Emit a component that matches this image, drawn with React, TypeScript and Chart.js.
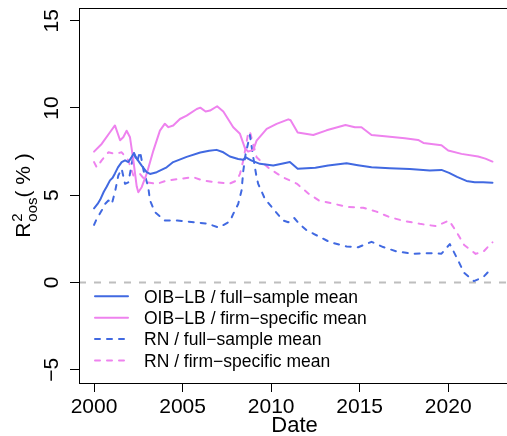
import React, { useEffect, useRef } from 'react';
import { Chart, registerables } from 'chart.js';

Chart.register(...registerables);

// ---- tick values ----
const xTickValues = [2000, 2005, 2010, 2015, 2020];
const yTickValues = [-5, 0, 5, 10, 15];

// ---- series labels ----
const seriesLabels = [
  'OIB\u2212LB / full\u2212sample mean',
  'OIB\u2212LB / firm\u2212specific mean',
  'RN / full\u2212sample mean',
  'RN / firm\u2212specific mean',
];

// ---- OIB-LB / full-sample mean ----
const oibFullDates = [2000.0, 2000.2, 2000.35, 2000.55, 2000.72, 2000.9, 2001.05, 2001.18, 2001.35, 2001.56, 2001.75, 2001.94, 2002.13, 2002.25, 2002.41, 2002.69, 2002.97, 2003.16, 2003.54, 2004.1, 2004.47, 2005.23, 2006.0, 2006.5, 2006.92, 2007.3, 2007.67, 2008.14, 2008.43, 2008.55, 2008.72, 2008.9, 2009.37, 2010.12, 2010.6, 2011.06, 2011.5, 2012.5, 2013.22, 2014.26, 2014.9, 2015.67, 2016.7, 2017.83, 2018.96, 2019.62, 2020.05, 2020.5, 2021.03, 2021.5, 2021.97, 2022.5];
const oibFullValues = [4.25, 4.5, 4.75, 5.2, 5.5, 5.85, 6.0, 6.25, 6.6, 6.9, 7.0, 6.9, 7.2, 7.4, 7.1, 6.7, 6.32, 6.22, 6.32, 6.6, 6.9, 7.2, 7.45, 7.55, 7.6, 7.46, 7.22, 7.08, 7.03, 7.18, 7.08, 6.98, 6.8, 6.7, 6.8, 6.9, 6.52, 6.57, 6.7, 6.83, 6.72, 6.6, 6.55, 6.5, 6.42, 6.45, 6.28, 6.05, 5.82, 5.75, 5.74, 5.72];

// ---- OIB-LB / firm-specific mean ----
const oibFirmDates = [2000.0, 2000.43, 2000.9, 2001.18, 2001.47, 2001.65, 2001.84, 2002.03, 2002.22, 2002.41, 2002.5, 2002.69, 2002.97, 2003.35, 2003.72, 2004.0, 2004.2, 2004.47, 2004.85, 2005.23, 2005.8, 2006.0, 2006.3, 2006.55, 2006.95, 2007.3, 2007.86, 2008.24, 2008.52, 2008.7, 2008.99, 2009.18, 2009.75, 2010.31, 2010.97, 2011.1, 2011.5, 2012.38, 2013.13, 2014.2, 2014.73, 2015.1, 2015.67, 2016.42, 2017.55, 2018.3, 2018.6, 2019.62, 2020.0, 2020.75, 2021.69, 2022.1, 2022.5];
const oibFirmValues = [7.5, 7.94, 8.61, 9.0, 8.15, 8.32, 8.7, 8.32, 7.0, 5.5, 5.17, 5.46, 6.22, 7.56, 8.7, 9.1, 8.9, 9.0, 9.37, 9.56, 9.94, 10.02, 9.8, 9.85, 10.1, 9.8, 8.9, 8.52, 7.7, 7.5, 7.6, 8.13, 8.8, 9.09, 9.35, 9.3, 8.6, 8.45, 8.72, 9.03, 8.9, 8.9, 8.45, 8.38, 8.27, 8.17, 8.0, 7.87, 7.56, 7.37, 7.22, 7.1, 6.93];

// ---- RN / full-sample mean ----
const rnFullDates = [2000.0, 2000.15, 2000.43, 2000.62, 2000.81, 2001.0, 2001.18, 2001.37, 2001.56, 2001.75, 2001.94, 2002.13, 2002.25, 2002.42, 2002.6, 2002.8, 2003.06, 2003.16, 2003.44, 2004.0, 2004.7, 2005.5, 2006.36, 2007.05, 2007.67, 2007.86, 2008.14, 2008.33, 2008.43, 2008.55, 2008.8, 2008.99, 2009.18, 2009.27, 2009.65, 2010.12, 2010.68, 2010.97, 2011.3, 2011.6, 2012.0, 2012.4, 2013.32, 2014.26, 2014.92, 2015.67, 2016.33, 2017.05, 2018.0, 2018.96, 2019.62, 2020.09, 2020.47, 2020.9, 2021.45, 2021.97, 2022.25, 2022.5];
const rnFullValues = [3.3, 3.65, 4.12, 4.5, 4.7, 4.5, 5.17, 6.13, 6.51, 5.65, 5.74, 6.8, 7.45, 6.9, 7.5, 6.4, 5.46, 4.7, 4.03, 3.55, 3.55, 3.47, 3.38, 3.15, 3.5, 3.93, 4.5, 5.27, 6.41, 7.3, 8.45, 7.18, 6.03, 5.65, 4.79, 4.22, 3.55, 3.45, 3.7, 3.35, 3.0, 2.79, 2.31, 2.06, 2.02, 2.33, 2.03, 1.79, 1.64, 1.68, 1.65, 2.2, 1.45, 0.55, 0.08, 0.3, 0.6, 0.75];

// ---- RN / firm-specific mean ----
const rnFirmDates = [2000.0, 2000.15, 2000.43, 2000.81, 2001.18, 2001.56, 2001.94, 2002.22, 2002.6, 2002.97, 2003.54, 2004.1, 2004.85, 2005.6, 2006.17, 2006.92, 2007.67, 2008.05, 2008.24, 2008.43, 2008.71, 2008.8, 2009.18, 2009.37, 2009.93, 2010.68, 2011.44, 2012.1, 2012.7, 2013.5, 2014.3, 2015.2, 2015.95, 2016.7, 2017.5, 2018.4, 2019.3, 2020.05, 2020.47, 2020.9, 2021.55, 2022.0, 2022.25, 2022.5];
const rnFirmValues = [6.9, 6.6, 7.0, 7.46, 7.37, 7.46, 7.0, 6.13, 6.22, 5.74, 5.65, 5.84, 5.94, 6.03, 5.84, 5.74, 5.67, 5.84, 6.22, 7.0, 8.6, 8.65, 7.18, 7.0, 6.51, 6.02, 5.67, 5.1, 4.7, 4.52, 4.33, 4.28, 4.06, 3.74, 3.53, 3.36, 3.23, 3.55, 2.9, 2.15, 1.64, 1.78, 2.05, 2.3];

const BLUE = '#4169E1';
const VIOLET = '#EE82EE';
const FONT = '"Liberation Sans", Arial, Helvetica, sans-serif';

const toPoints = (xs: number[], ys: number[]) => xs.map((x, i) => ({ x, y: ys[i] }));

const X_MIN = 1999.15;
const X_MAX = 2023.49;

const rPlotPlugin = {
  id: 'rPlot',
  afterDraw(chart: any) {
    const { ctx, chartArea: a } = chart;
    ctx.save();
    // box
    ctx.strokeStyle = '#000';
    ctx.lineWidth = 1;
    ctx.setLineDash([]);
    ctx.strokeRect(Math.round(a.left) + 0.5, Math.round(a.top) + 0.5, Math.round(a.right - a.left), Math.round(a.bottom - a.top));

    // legend
    const ds = chart.data.datasets;
    const lx0 = a.left + 16;
    const lx1 = lx0 + 33;
    const tx = a.left + 65;
    const rowStep = 21.4;
    const lastRow = a.bottom - 22.5;
    ctx.font = `17.5px ${FONT}`;
    ctx.textBaseline = 'alphabetic';
    ctx.textAlign = 'left';
    for (let i = 0; i < 4; i++) {
      const d = ds[i];
      const y = lastRow - (3 - i) * rowStep;
      ctx.strokeStyle = d.borderColor;
      ctx.lineWidth = d.borderWidth;
      ctx.lineCap = 'round';
      ctx.setLineDash(d.borderDash || []);
      ctx.beginPath();
      ctx.moveTo(lx0, y);
      ctx.lineTo(lx1, y);
      ctx.stroke();
      ctx.setLineDash([]);
      ctx.fillStyle = '#000';
      ctx.fillText(d.label, tx, y + 6.3);
    }

    // y-axis title: R^2_oos( % )
    const big = 21;
    const small = 15;
    ctx.font = `${big}px ${FONT}`;
    const wR = ctx.measureText('R').width;
    const wSp = ctx.measureText(' ').width;
    const wLp = ctx.measureText('(').width;
    const wPct = ctx.measureText('%').width;
    const wRp = ctx.measureText(')').width;
    ctx.font = `${small}px ${FONT}`;
    const wOos = ctx.measureText('oos').width;
    const w2 = ctx.measureText('2').width;
    const wScript = Math.max(wOos, w2) + 1;
    const total = wR + wScript + wLp + wSp + wPct + wSp + wRp;
    const cy = (a.top + a.bottom) / 2;
    const baseX = 30;
    ctx.translate(baseX, cy + total / 2);
    ctx.rotate(-Math.PI / 2);
    ctx.fillStyle = '#000';
    ctx.textAlign = 'left';
    ctx.textBaseline = 'alphabetic';
    let s = 0;
    ctx.font = `${big}px ${FONT}`;
    ctx.fillText('R', s, 0);
    s += wR;
    ctx.font = `${small}px ${FONT}`;
    ctx.fillText('2', s + 1, -8);
    ctx.fillText('oos', s + 1, 7);
    s += wScript;
    ctx.font = `${big}px ${FONT}`;
    ctx.fillText('(', s, 0);
    s += wLp + wSp;
    ctx.fillText('%', s, 0);
    s += wPct + wSp;
    ctx.fillText(')', s, 0);
    ctx.restore();
  },
};

export default function App() {
  const canvasRef = useRef<HTMLCanvasElement | null>(null);

  useEffect(() => {
    const canvas = canvasRef.current;
    if (!canvas) return;
    const lineBase = {
      borderWidth: 2,
      pointRadius: 0,
      tension: 0,
      fill: false,
      borderCapStyle: 'round' as const,
      borderJoinStyle: 'round' as const,
    };
    const chart = new Chart(canvas, {
      type: 'line',
      data: {
        datasets: [
          { ...lineBase, label: seriesLabels[0], data: toPoints(oibFullDates, oibFullValues), borderColor: BLUE, backgroundColor: BLUE },
          { ...lineBase, label: seriesLabels[1], data: toPoints(oibFirmDates, oibFirmValues), borderColor: VIOLET, backgroundColor: VIOLET },
          { ...lineBase, label: seriesLabels[2], data: toPoints(rnFullDates, rnFullValues), borderColor: BLUE, backgroundColor: BLUE, borderDash: [5, 7] },
          { ...lineBase, label: seriesLabels[3], data: toPoints(rnFirmDates, rnFirmValues), borderColor: VIOLET, backgroundColor: VIOLET, borderDash: [5, 7] },
          { ...lineBase, label: 'zero', data: [{ x: X_MIN, y: 0 }, { x: X_MAX, y: 0 }], borderColor: '#BEBEBE', backgroundColor: '#BEBEBE', borderDash: [7, 8], borderCapStyle: 'butt' as const },
        ],
      },
      options: {
        animation: false,
        responsive: false,
        devicePixelRatio: 1,
        parsing: false as any,
        normalized: true,
        layout: { padding: { left: 0, top: 8, right: 5, bottom: 0 } },
        plugins: {
          legend: { display: false },
          tooltip: { enabled: false },
          title: { display: false },
        },
        scales: {
          x: {
            type: 'linear',
            min: X_MIN,
            max: X_MAX,
            afterBuildTicks: (scale: any) => {
              scale.ticks = xTickValues.map((v) => ({ value: v }));
            },
            afterFit: (scale: any) => {
              scale.height = 53;
              scale.paddingLeft = 0;
              scale.paddingRight = 0;
              scale.paddingTop = 0;
              scale.paddingBottom = 0;
            },
            ticks: {
              autoSkip: false,
              maxRotation: 0,
              minRotation: 0,
              padding: 3,
              color: '#000',
              font: { family: FONT, size: 21, lineHeight: 1.2 },
              callback: (v: any) => String(v),
            },
            grid: {
              display: true,
              drawOnChartArea: false,
              drawTicks: true,
              tickLength: 9,
              color: '#000',
              lineWidth: 1,
            },
            border: { display: false },
            title: {
              display: true,
              text: 'Date',
              color: '#000',
              font: { family: FONT, size: 22, lineHeight: 1 },
              padding: { top: 0, bottom: -1 },
            },
          },
          y: {
            type: 'linear',
            min: -5.76,
            max: 15.73,
            afterBuildTicks: (scale: any) => {
              scale.ticks = yTickValues.map((v) => ({ value: v }));
            },
            afterFit: (scale: any) => {
              scale.width = 79;
              scale.paddingTop = 0;
              scale.paddingBottom = 0;
              scale.paddingLeft = 0;
              scale.paddingRight = 0;
            },
            ticks: {
              autoSkip: false,
              minRotation: 90,
              maxRotation: 90,
              crossAlign: 'center',
              padding: 6,
              color: '#000',
              font: { family: FONT, size: 21, lineHeight: 1.2 },
              callback: (v: any) => (v < 0 ? '\u2212' + Math.abs(v) : String(v)),
            },
            grid: {
              display: true,
              drawOnChartArea: false,
              drawTicks: true,
              tickLength: 9,
              color: '#000',
              lineWidth: 1,
            },
            border: { display: false },
            title: { display: false },
          },
        },
      },
      plugins: [rPlotPlugin],
    });
    return () => chart.destroy();
  }, []);

  return (
    <div style={{ position: 'fixed', left: 0, top: 0, width: 507, height: 436, overflow: 'hidden', background: '#fff' }}>
      <canvas ref={canvasRef} width={515} height={436} style={{ width: 515, height: 436, display: 'block' }} />
    </div>
  );
}
